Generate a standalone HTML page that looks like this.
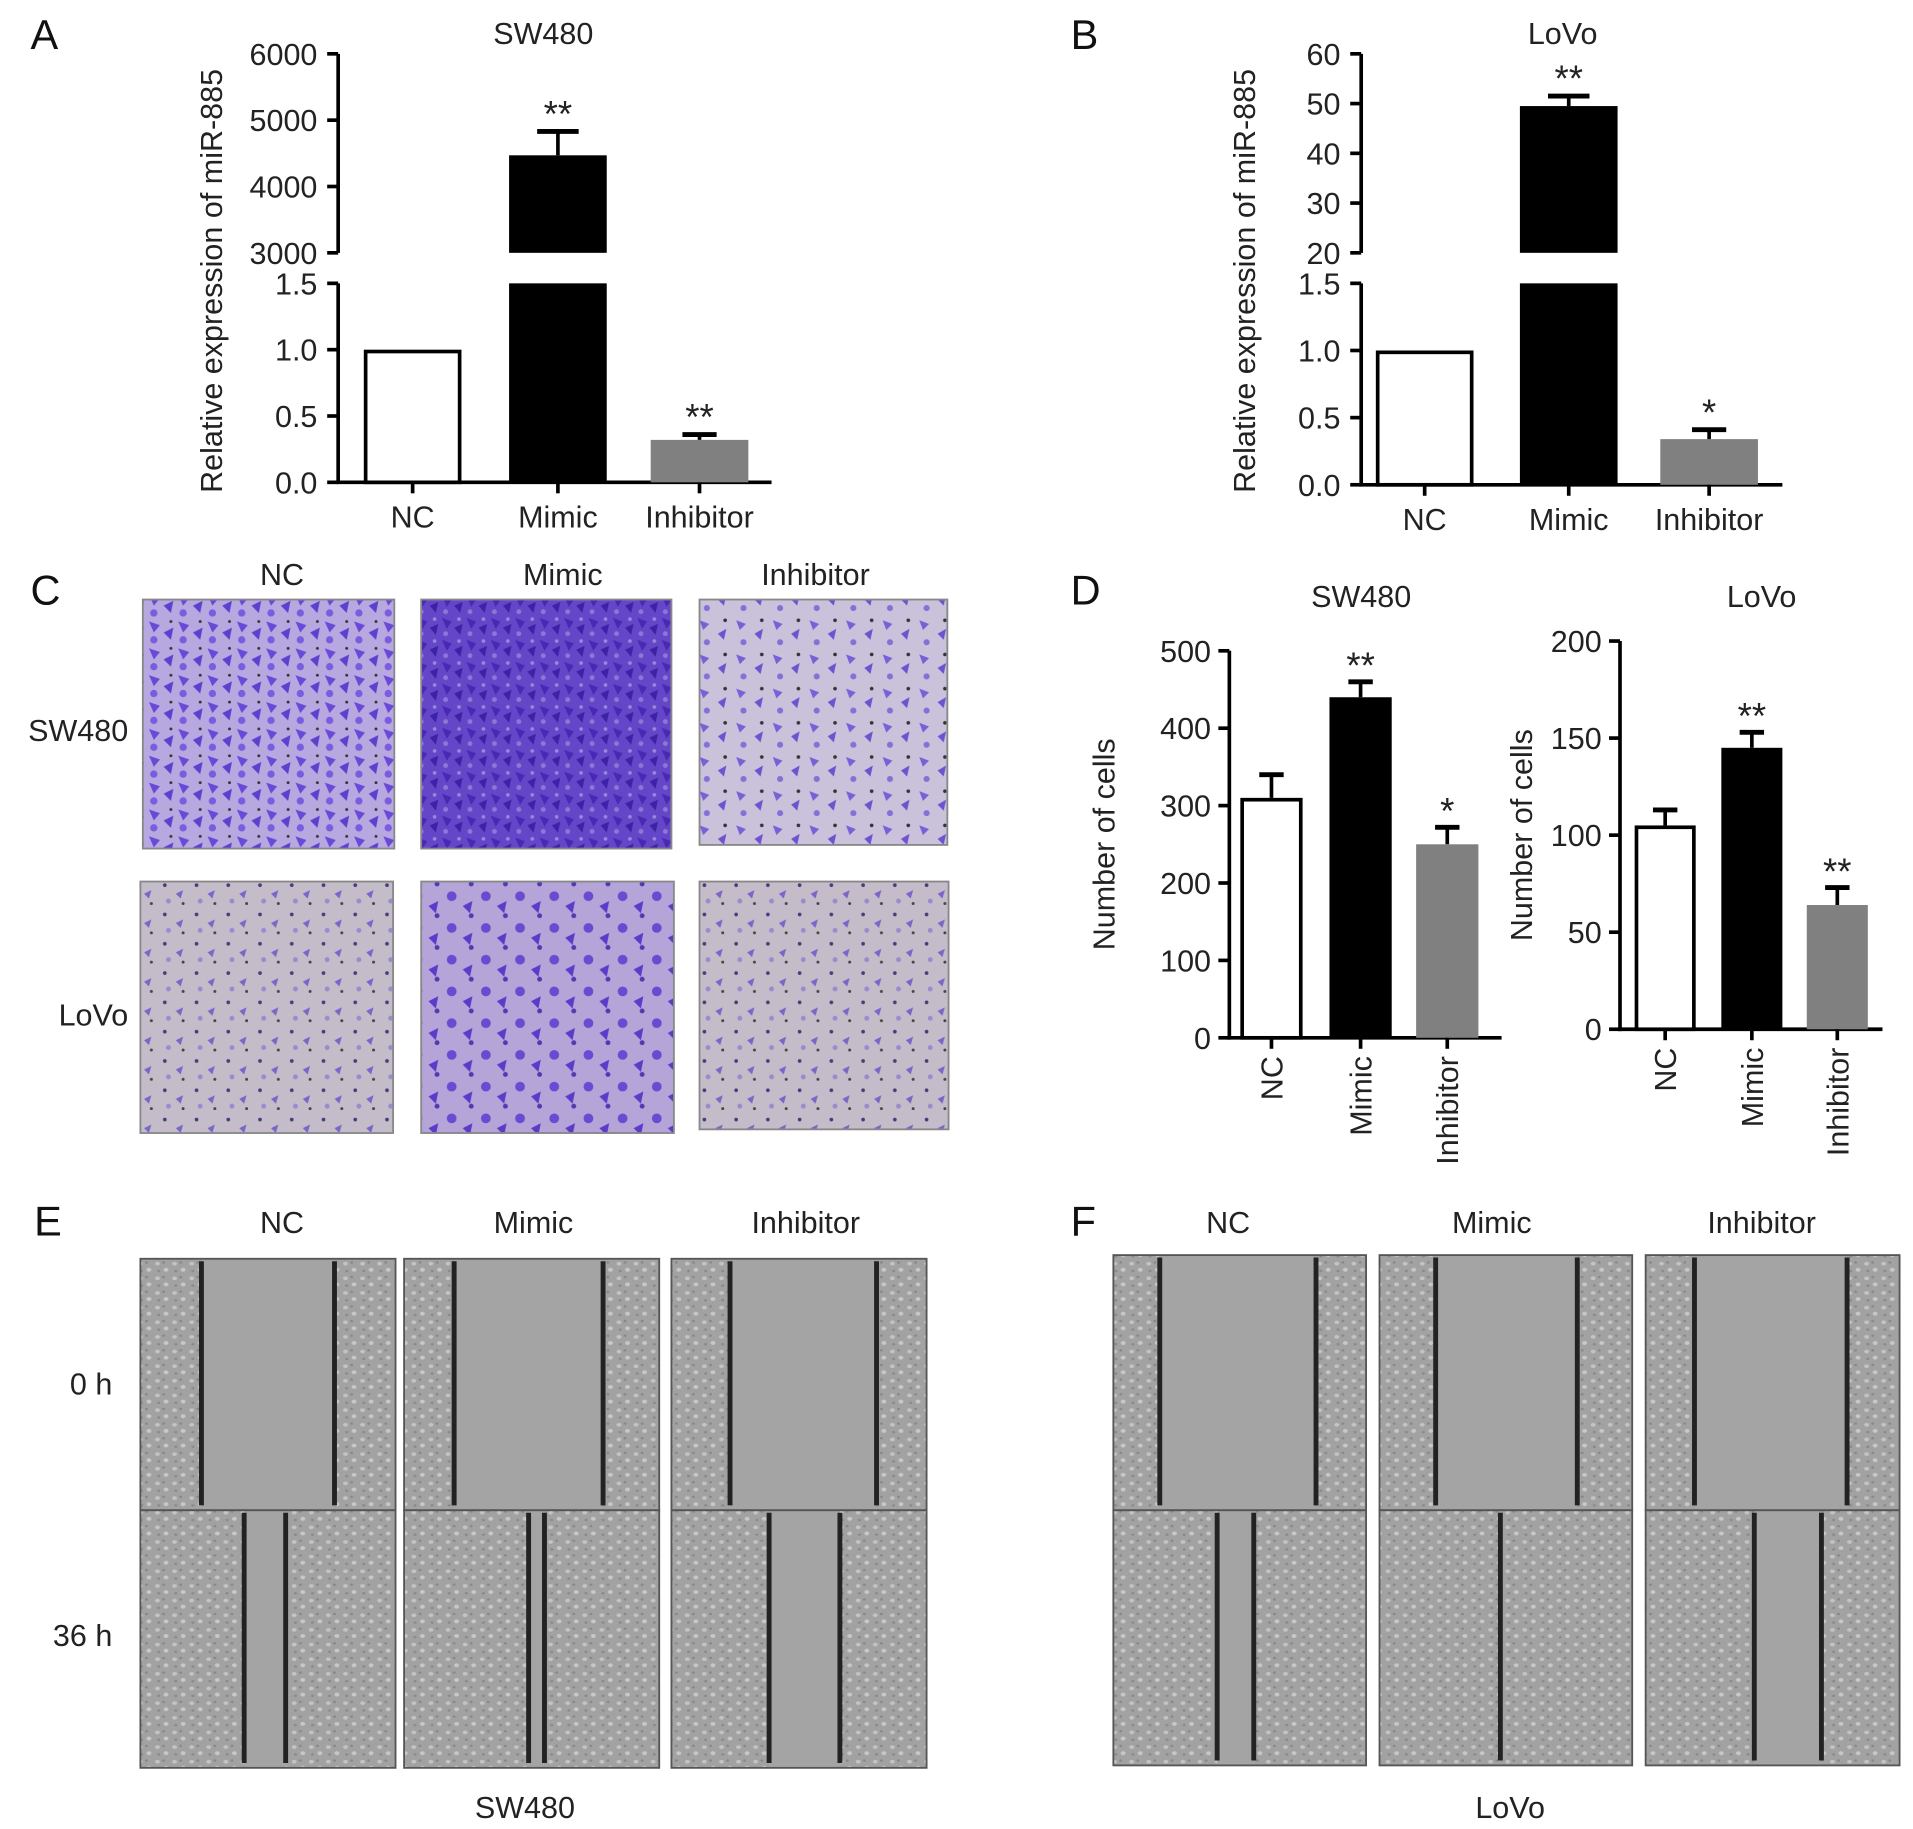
<!DOCTYPE html>
<html><head><meta charset="utf-8"><style>
html,body{margin:0;padding:0;background:#fff;}
svg{display:block;font-family:"Liberation Sans",Arial,sans-serif;}
</style></head><body>
<svg id="fig" width="1913" height="1829" viewBox="0 0 1567 1498" xmlns="http://www.w3.org/2000/svg">
<defs>
<pattern id="cellsP" width="14" height="12" patternUnits="userSpaceOnUse">
<rect width="14" height="12" fill="#a2a2a2"/>
<ellipse cx="3" cy="3" rx="2" ry="1.5" fill="#c4c4c4"/><ellipse cx="10" cy="8" rx="2" ry="1.6" fill="#c8c8c8"/><ellipse cx="8" cy="2" rx="1.2" ry="1" fill="#888"/><ellipse cx="4" cy="9" rx="1.3" ry="1" fill="#8a8a8a"/>
</pattern>
<pattern id="purpleLight" width="30" height="28" patternUnits="userSpaceOnUse">
<rect width="30" height="28" fill="#c9c2da"/>
<path d="M3 4 l8 3 l-5 5z" fill="#7a5fd6"/><path d="M18 15 l7 -4 l-2 9z" fill="#6e52cf"/><circle cx="24" cy="4" r="1.5" fill="#333"/><circle cx="9" cy="22" r="2.5" fill="#8670d8"/>
</pattern>
<pattern id="purpleMid" width="24" height="22" patternUnits="userSpaceOnUse">
<rect width="24" height="22" fill="#b8a8e0"/>
<path d="M2 3 l9 3 l-5 6z" fill="#6a48d8"/><path d="M14 12 l8 -4 l-2 10z" fill="#5e40cf"/><circle cx="20" cy="3" r="1.2" fill="#333"/><circle cx="6" cy="18" r="3" fill="#7a5ce0"/>
</pattern>
<pattern id="purpleDark" width="20" height="18" patternUnits="userSpaceOnUse">
<rect width="20" height="18" fill="#6446c8"/>
<path d="M2 2 l8 3 l-4 6z" fill="#4a28b4"/><path d="M12 10 l7 -3 l-2 9z" fill="#3e22a6"/><circle cx="16" cy="3" r="1.5" fill="#9a88d8"/><circle cx="5" cy="15" r="2" fill="#8c78d4"/>
</pattern>
<pattern id="purpleGray" width="26" height="24" patternUnits="userSpaceOnUse">
<rect width="26" height="24" fill="#c4bcc8"/>
<circle cx="5" cy="5" r="1.5" fill="#4a3a7a"/><path d="M14 12 l6 -3 l-2 7z" fill="#7a66c8"/><circle cx="20" cy="20" r="1.2" fill="#444"/><circle cx="8" cy="18" r="2" fill="#9a8ad0"/>
</pattern>
<pattern id="purpleLovoMid" width="28" height="26" patternUnits="userSpaceOnUse">
<rect width="28" height="26" fill="#b5a4d8"/>
<circle cx="6" cy="6" r="4" fill="#6a4ad0"/><path d="M15 14 l8 -4 l-2 10z" fill="#5a3cc8"/><circle cx="22" cy="22" r="2" fill="#503ab0"/>
</pattern>
</defs>
<g id="root"></g>
</svg>
<script>
// ---------- data ----------
const categories = ["NC", "Mimic", "Inhibitor"];
const aSW480Values = [1, 4470, 0.32];
const aSW480Errors = [1, 4830, 0.36];
const aSW480Stars = ["", "**", "**"];
const bLoVoValues = [1, 49.5, 0.34];
const bLoVoErrors = [1, 51.5, 0.41];
const bLoVoStars = ["", "**", "*"];
const aUpperTicks = [3000, 4000, 5000, 6000];
const aLowerTicks = [0.0, 0.5, 1.0, 1.5];
const bUpperTicks = [20, 30, 40, 50, 60];
const bLowerTicks = [0.0, 0.5, 1.0, 1.5];
const dSW480Values = [310, 440, 250];
const dSW480Errors = [340, 460, 272];
const dSW480Stars = ["", "**", "*"];
const dSW480Ticks = [0, 100, 200, 300, 400, 500];
const dLoVoValues = [105, 145, 64];
const dLoVoErrors = [113, 153, 73];
const dLoVoStars = ["", "**", "**"];
const dLoVoTicks = [0, 50, 100, 150, 200];

const NS = "http://www.w3.org/2000/svg";
const root = document.getElementById("root");
function mk(tag, attrs, parent, txt) {
  const e = document.createElementNS(NS, tag);
  for (const k in attrs) e.setAttribute(k, attrs[k]);
  if (txt !== undefined) e.textContent = txt;
  (parent || root).appendChild(e);
  return e;
}
const fills = ["#ffffff", "#000000", "#808080"];

function text(x, y, s, size, anchor, name, parent, rot) {
  const t = mk("text", {x: x, y: y, "font-size": size, "text-anchor": anchor || "middle", fill: "#222"}, parent, s);
  if (rot) t.setAttribute("transform", "rotate(-90 " + x + " " + y + ")");
  
  
  return t;
}

function brokenChart(o) {
  const g = mk("g", {});
  
  
  const yU = v => o.uTop + (o.uMax - v) / (o.uMax - o.uMin) * (o.uBot - o.uTop);
  const yL = v => o.lTop + (o.lMax - v) / (o.lMax - 0) * (o.lBot - o.lTop);
  const sw = 3;
  mk("line", {x1: o.ax, y1: o.uTop, x2: o.ax, y2: o.uBot, stroke: "#000", "stroke-width": sw}, g);
  mk("line", {x1: o.ax, y1: o.lTop, x2: o.ax, y2: o.lBot, stroke: "#000", "stroke-width": sw}, g);
  mk("line", {x1: o.ax - 1.5, y1: o.lBot, x2: o.axEnd, y2: o.lBot, stroke: "#000", "stroke-width": sw}, g);
  o.uTicks.forEach(v => {
    mk("line", {x1: o.ax - 9, y1: yU(v), x2: o.ax, y2: yU(v), stroke: "#000", "stroke-width": sw}, g);
    text(o.ax - 17, yU(v) + 9, String(v), 25, "end", "y-tick-label", g);
  });
  o.lTicks.forEach(v => {
    mk("line", {x1: o.ax - 9, y1: yL(v), x2: o.ax, y2: yL(v), stroke: "#000", "stroke-width": sw}, g);
    text(o.ax - 17, yL(v) + 9, v.toFixed(1), 25, "end", "y-tick-label", g);
  });
  categories.forEach((c, i) => {
    const x0 = o.barX[i], w = o.barW, cx = x0 + w / 2, v = o.values[i], e = o.errors[i];
    if (v > o.lMax) {
      const r1 = mk("rect", {x: x0, y: yU(v), width: w, height: o.uBot - yU(v), fill: fills[i]}, g);
      
      
      const r2 = mk("rect", {x: x0, y: o.lTop, width: w, height: o.lBot - o.lTop, fill: fills[i]}, g);
      
      
      mk("line", {x1: cx, y1: yU(e), x2: cx, y2: yU(v), stroke: "#000", "stroke-width": 3}, g);
      mk("line", {x1: cx - 17, y1: yU(e), x2: cx + 17, y2: yU(e), stroke: "#000", "stroke-width": 4}, g);
      text(cx, yU(e) - 4, o.stars[i], 30, "middle", "significance-star", g);
    } else {
      const r = mk("rect", {x: x0 + (i === 0 ? 1.5 : 0), y: yL(v) + (i === 0 ? 1.5 : 0), width: w - (i === 0 ? 3 : 0), height: o.lBot - yL(v) - (i === 0 ? 1.5 : 0), fill: fills[i], stroke: i === 0 ? "#000" : "none", "stroke-width": 3}, g);
      
      
      if (e > v) {
        mk("line", {x1: cx, y1: yL(e), x2: cx, y2: yL(v), stroke: "#000", "stroke-width": 3}, g);
        mk("line", {x1: cx - 14, y1: yL(e), x2: cx + 14, y2: yL(e), stroke: "#000", "stroke-width": 4}, g);
      }
      if (o.stars[i]) text(cx, yL(e) - 4, o.stars[i], 30, "middle", "significance-star", g);
    }
    mk("line", {x1: cx, y1: o.lBot, x2: cx, y2: o.lBot + 9, stroke: "#000", "stroke-width": 3}, g);
    text(cx, o.lBot + 37, c, 25, "middle", "x-tick-label", g);
  });
  text(o.ytX, o.ytY, "Relative expression of miR-885", 25, "middle", "y-axis-title", g, true);
  text(o.titleX, 36, o.title, 25, "middle", "chart-title", g);
}

brokenChart({name: "chart-a-sw480", title: "SW480", titleX: 445, ax: 277, axEnd: 632,
  uTop: 44, uBot: 207, uMin: 3000, uMax: 6000, lTop: 232, lBot: 395, lMax: 1.5,
  uTicks: aUpperTicks, lTicks: aLowerTicks, values: aSW480Values, errors: aSW480Errors, stars: aSW480Stars,
  barX: [298, 417, 533], barW: 80, ytX: 182, ytY: 230});
brokenChart({name: "chart-b-lovo", title: "LoVo", titleX: 1280, ax: 1115, axEnd: 1460,
  uTop: 44, uBot: 207, uMin: 20, uMax: 60, lTop: 232, lBot: 397, lMax: 1.5,
  uTicks: bUpperTicks, lTicks: bLowerTicks, values: bLoVoValues, errors: bLoVoErrors, stars: bLoVoStars,
  barX: [1127, 1245, 1360], barW: 80, ytX: 1028, ytY: 230});

function simpleChart(o) {
  const g = mk("g", {});
  
  
  const max = o.ticks[o.ticks.length - 1];
  const y = v => o.bot - v / max * (o.bot - o.top);
  mk("line", {x1: o.ax, y1: o.top, x2: o.ax, y2: o.bot + 1.5, stroke: "#000", "stroke-width": 3}, g);
  mk("line", {x1: o.ax - 1.5, y1: o.bot, x2: o.axEnd, y2: o.bot, stroke: "#000", "stroke-width": 3}, g);
  o.ticks.forEach(v => {
    mk("line", {x1: o.ax - 9, y1: y(v), x2: o.ax, y2: y(v), stroke: "#000", "stroke-width": 3}, g);
    text(o.ax - 15, y(v) + 9, String(v), 25, "end", "y-tick-label", g);
  });
  categories.forEach((c, i) => {
    const x0 = o.barX[i], w = o.barW, cx = x0 + w / 2, v = o.values[i], e = o.errors[i];
    mk("line", {x1: cx, y1: y(e), x2: cx, y2: y(v), stroke: "#000", "stroke-width": 3}, g);
    mk("line", {x1: cx - 10, y1: y(e), x2: cx + 10, y2: y(e), stroke: "#000", "stroke-width": 4}, g);
    const r = mk("rect", {x: x0 + (i === 0 ? 1.5 : 0), y: y(v) + (i === 0 ? 1.5 : 0), width: w - (i === 0 ? 3 : 0), height: o.bot - y(v) - (i === 0 ? 1.5 : 0), fill: fills[i], stroke: i === 0 ? "#000" : "none", "stroke-width": 3}, g);
    
    
    if (o.stars[i]) text(cx, y(e) - 3, o.stars[i], 30, "middle", "significance-star", g);
    mk("line", {x1: cx, y1: o.bot, x2: cx, y2: o.bot + 9, stroke: "#000", "stroke-width": 3}, g);
    text(cx + 9, o.bot + 15, c, 25, "end", "x-tick-label", g, true);
  });
  text(o.ytX, (o.top + o.bot) / 2, "Number of cells", 25, "middle", "y-axis-title", g, true);
  text(o.titleX, 497, o.title, 25, "middle", "chart-title", g);
}
simpleChart({name: "chart-d-sw480", title: "SW480", titleX: 1115, ax: 1007, axEnd: 1230, top: 533, bot: 850,
  ticks: dSW480Ticks, values: dSW480Values, errors: dSW480Errors, stars: dSW480Stars,
  barX: [1016, 1089, 1160], barW: 51, ytX: 913});
simpleChart({name: "chart-d-lovo", title: "LoVo", titleX: 1443, ax: 1327, axEnd: 1542, top: 525, bot: 843,
  ticks: dLoVoTicks, values: dLoVoValues, errors: dLoVoErrors, stars: dLoVoStars,
  barX: [1339, 1410, 1480], barW: 50, ytX: 1255});

[["A", 25, 40], ["B", 877, 40], ["C", 25, 495], ["D", 877, 495], ["E", 28, 1012], ["F", 877, 1012]].forEach(l => {
  const t = text(l[1], l[2], l[0], 34, "start", "panel-label-" + l[0].toLowerCase());
  t.setAttribute("fill", "#111");
});

const cHeaders = [[231, "NC"], [461, "Mimic"], [668, "Inhibitor"]];
cHeaders.forEach(h => text(h[0], 479, h[1], 25, "middle", "column-header"));
text(105, 607, "SW480", 25, "end", "row-label-sw480");
text(105, 840, "LoVo", 25, "end", "row-label-lovo");
const cImgs = [
  [117, 491, 206, 204, "purpleMid", "transwell-sw480-nc"],
  [345, 491, 205, 204, "purpleDark", "transwell-sw480-mimic"],
  [573, 491, 203, 201, "purpleLight", "transwell-sw480-inhibitor"],
  [115, 722, 207, 206, "purpleGray", "transwell-lovo-nc"],
  [345, 722, 207, 206, "purpleLovoMid", "transwell-lovo-mimic"],
  [573, 722, 204, 203, "purpleGray", "transwell-lovo-inhibitor"]];
cImgs.forEach(c => {
  const r = mk("rect", {x: c[0], y: c[1], width: c[2], height: c[3], fill: "url(#" + c[4] + ")", stroke: "#888", "stroke-width": 1.5});
  
  
});

function wound(x0, yTop, w, h, lines, name) {
  const g = mk("g", {});
  
  
  mk("rect", {x: x0, y: yTop, width: w, height: h, fill: "url(#cellsP)"}, g);
  if (lines.length === 2) mk("rect", {x: lines[0], y: yTop, width: lines[1] - lines[0], height: h, fill: "#a4a4a4"}, g);
  lines.forEach(lx => mk("line", {x1: lx, y1: yTop + 2, x2: lx, y2: yTop + h - 4, stroke: "#222", "stroke-width": 4}, g));
  mk("rect", {x: x0, y: yTop, width: w, height: h, fill: "none", stroke: "#555", "stroke-width": 1.5}, g);
}
[[231, "NC"], [437, "Mimic"], [660, "Inhibitor"]].forEach(h => text(h[0], 1010, h[1], 25, "middle", "column-header"));
[[1006, "NC"], [1222, "Mimic"], [1443, "Inhibitor"]].forEach(h => text(h[0], 1010, h[1], 25, "middle", "column-header"));
text(92, 1142, "0 h", 25, "end", "row-label-0h");
text(92, 1348, "36 h", 25, "end", "row-label-36h");
text(430, 1489, "SW480", 25, "middle", "panel-e-caption");
text(1237, 1489, "LoVo", 25, "middle", "panel-f-caption");
wound(115, 1031, 209, 206, [165, 274], "wound-sw480-nc-0h");
wound(331, 1031, 209, 206, [372, 494], "wound-sw480-mimic-0h");
wound(550, 1031, 209, 206, [598, 718], "wound-sw480-inhibitor-0h");
wound(115, 1237, 209, 211, [200, 234], "wound-sw480-nc-36h");
wound(331, 1237, 209, 211, [433, 446], "wound-sw480-mimic-36h");
wound(550, 1237, 209, 211, [630, 688], "wound-sw480-inhibitor-36h");
wound(912, 1028, 207, 209, [950, 1078], "wound-lovo-nc-0h");
wound(1130, 1028, 207, 209, [1176, 1292], "wound-lovo-mimic-0h");
wound(1348, 1028, 208, 209, [1388, 1513], "wound-lovo-inhibitor-0h");
wound(912, 1237, 207, 209, [997, 1027], "wound-lovo-nc-36h");
wound(1130, 1237, 207, 209, [1229], "wound-lovo-mimic-36h");
wound(1348, 1237, 208, 209, [1437, 1492], "wound-lovo-inhibitor-36h");
</script>
</body></html>
